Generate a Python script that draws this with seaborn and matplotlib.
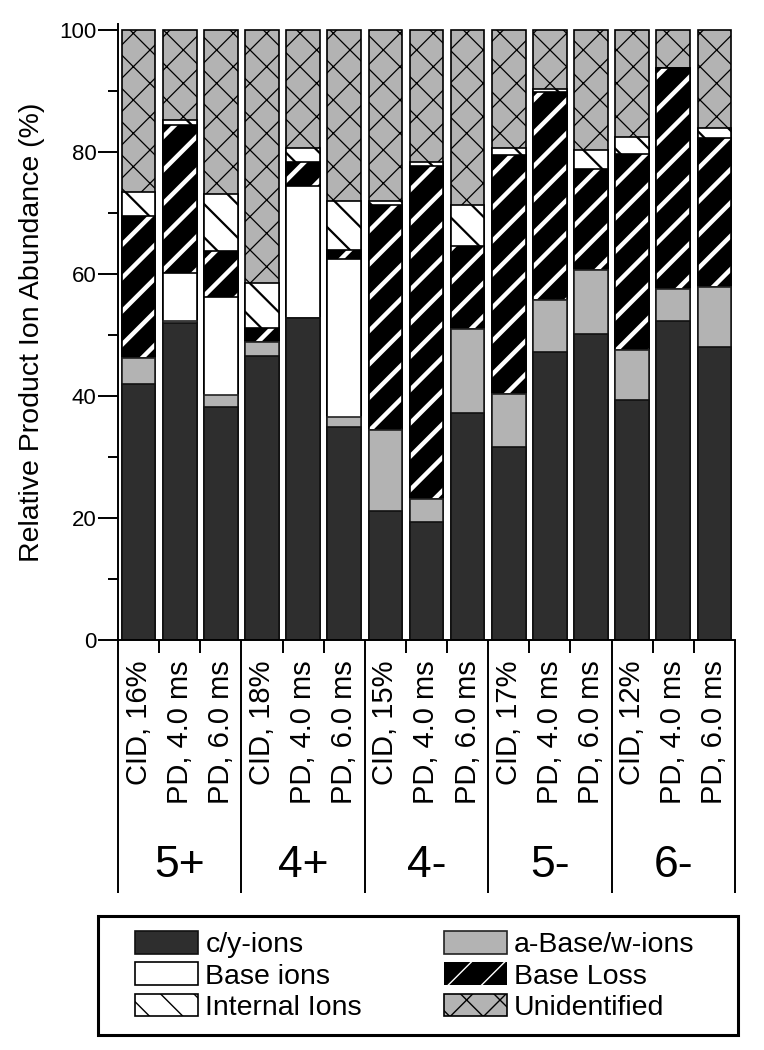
import numpy as np
import pandas as pd
import matplotlib
matplotlib.use("Agg")
import matplotlib.pyplot as plt
import matplotlib.transforms as mtransforms
from matplotlib.patches import Patch, Rectangle
import seaborn as sns

# ---------------- data ----------------
groups = ["5+", "4+", "4-", "5-", "6-"]
conditions = ["CID, 16%", "PD, 4.0 ms", "PD, 6.0 ms",
              "CID, 18%", "PD, 4.0 ms", "PD, 6.0 ms",
              "CID, 15%", "PD, 4.0 ms", "PD, 6.0 ms",
              "CID, 17%", "PD, 4.0 ms", "PD, 6.0 ms",
              "CID, 12%", "PD, 4.0 ms", "PD, 6.0 ms"]
cy_ions      = [42.0, 52.0, 38.2, 46.6, 52.8, 34.9, 21.2, 19.3, 37.2, 31.7, 47.3, 50.1, 39.4, 52.3, 48.1]
abase_w_ions = [4.2, 0.3, 1.9, 2.2, 0.0, 1.7, 13.3, 3.8, 13.8, 8.6, 8.5, 10.5, 8.1, 5.3, 9.8]
base_ions    = [0.0, 7.8, 16.1, 0.0, 21.6, 25.9, 0.0, 0.0, 0.0, 0.0, 0.0, 0.0, 0.0, 0.0, 0.0]
base_loss    = [23.3, 24.3, 7.5, 2.4, 3.9, 1.5, 36.9, 54.6, 13.6, 39.3, 34.1, 16.6, 32.2, 36.2, 24.4]
internal_ions = [3.9, 0.8, 9.5, 7.4, 2.3, 8.0, 0.6, 0.6, 6.7, 1.1, 0.5, 3.1, 2.8, 0.0, 1.7]
unidentified = [26.6, 14.8, 26.8, 41.4, 19.4, 28.0, 28.0, 21.7, 28.7, 19.3, 9.6, 19.7, 17.5, 6.2, 16.0]
series_names = ["c/y-ions", "a-Base/w-ions", "Base ions", "Base Loss", "Internal Ions", "Unidentified"]

# ---------------- styling ----------------
sns.set_theme(style="white")
plt.rcParams["font.family"] = ["Liberation Sans", "DejaVu Sans"]

DARK = "#2e2e2e"
LIGHT = "#b3b3b3"
EDGE_LW = 1.2

fig = plt.figure(figsize=(7.64, 10.5), dpi=100)
ax = fig.add_axes([118 / 764, 1 - 640 / 1050, 617 / 764, 616 / 1050])

layers = np.array([cy_ions, abase_w_ions, base_ions, base_loss, internal_ions, unidentified])
tops = np.cumsum(layers, axis=0)
bar_ids = np.arange(len(conditions))
df = pd.DataFrame({"bar": bar_ids})
for name, top in zip(series_names, tops):
    df[name] = top

BAR_W = 0.82


def draw(col, hatch_lw=None, **kw):
    n0 = len(ax.patches)
    with plt.rc_context({"hatch.linewidth": hatch_lw if hatch_lw else 1.0}):
        sns.barplot(data=df, x="bar", y=col, ax=ax, width=BAR_W, errorbar=None,
                    saturation=1, **kw)
    if hatch_lw:
        for p in ax.patches[n0:]:
            if hasattr(p, "set_hatch_linewidth"):
                p.set_hatch_linewidth(hatch_lw)


# stacked by overlaying cumulative totals (top layer first)
draw("Unidentified", hatch_lw=0.9, color=LIGHT, edgecolor="black", linewidth=EDGE_LW, hatch="x")
draw("Internal Ions", hatch_lw=1.6, color="white", edgecolor="black", linewidth=EDGE_LW, hatch="\\")
draw("Base Loss", hatch_lw=3.2, color="black", edgecolor="white", linewidth=0, hatch="/")
draw("Base Loss", color="black", fill=False, linewidth=EDGE_LW)
draw("Base ions", color="white", edgecolor="black", linewidth=EDGE_LW)
draw("a-Base/w-ions", color=LIGHT, edgecolor="#222222", linewidth=EDGE_LW)
draw("c/y-ions", color=DARK, edgecolor="#111111", linewidth=EDGE_LW)

# ---------------- axes ----------------
ax.set_xlim(-0.5, len(conditions) - 0.5)
ax.set_ylim(0, 101)
ax.set_xlabel("")
for s in ["top", "right"]:
    ax.spines[s].set_visible(False)
for s in ["left", "bottom"]:
    ax.spines[s].set_color("black")
    ax.spines[s].set_linewidth(1.4)

group_edges = np.arange(-0.5, len(conditions), 3)
inner_edges = [b + 0.5 for b in bar_ids[:-1] if (b + 1) % 3 != 0]
ax.set_xticks(group_edges)
ax.set_xticklabels([])
ax.set_xticks(inner_edges, minor=True)
ax.tick_params(axis="x", which="major", bottom=True, direction="out", length=182, width=1.4,
               color="black", labelbottom=False)
ax.tick_params(axis="x", which="minor", bottom=True, direction="out", length=9.4, width=1.4,
               color="black")

ax.set_yticks(np.arange(0, 101, 20))
ax.set_yticks(np.arange(10, 100, 20), minor=True)
ax.tick_params(axis="y", which="major", left=True, direction="out", length=14.4, width=1.4,
               color="black", labelsize=16, pad=1, labelcolor="black")
ax.tick_params(axis="y", which="minor", left=True, direction="out", length=7.2, width=1.4,
               color="black")

ax.set_ylabel("Relative Product Ion Abundance (%)", fontsize=20.5, color="black")
ax.yaxis.set_label_coords(-0.118, 0.5)

trans = mtransforms.blended_transform_factory(ax.transData, ax.transAxes)
for i, lab in enumerate(conditions):
    ax.text(i, -0.0325, lab, rotation=90, ha="center", va="top", fontsize=21,
            transform=trans, color="black")
for g, name in enumerate(groups):
    ax.text(3 * g + 1, -0.385, name, ha="center", va="baseline", fontsize=32,
            transform=trans, color="black")

# ---------------- legend ----------------
h_cy = Patch(facecolor=DARK, edgecolor="#111111", linewidth=EDGE_LW, label=series_names[0])
h_ab = Patch(facecolor=LIGHT, edgecolor="#222222", linewidth=EDGE_LW, label=series_names[1])
h_bi = Patch(facecolor="white", edgecolor="black", linewidth=EDGE_LW, label=series_names[2])
h_bl = Patch(facecolor="black", edgecolor="white", linewidth=0, hatch="/", label=series_names[3])
h_in = Patch(facecolor="white", edgecolor="black", linewidth=EDGE_LW, hatch="\\", label=series_names[4])
h_un = Patch(facecolor=LIGHT, edgecolor="black", linewidth=EDGE_LW, hatch="x", label=series_names[5])
for h, lw in [(h_bl, 3.2), (h_in, 1.6), (h_un, 0.9)]:
    if hasattr(h, "set_hatch_linewidth"):
        h.set_hatch_linewidth(lw)

fs = 20.5
em = fs / 72 * 100
leg = fig.legend(handles=[h_cy, h_bi, h_in, h_ab, h_bl, h_un],
                 labels=[series_names[0], series_names[2], series_names[4],
                         series_names[1], series_names[3], series_names[5]],
                 ncol=2, loc="center", bbox_to_anchor=(415 / 764, 1 - 976 / 1050),
                 frameon=False, fontsize=fs, handlelength=63 / em, handleheight=24 / em,
                 handletextpad=7 / em, columnspacing=82 / em, labelspacing=0.14,
                 borderpad=0)
for t in leg.get_texts():
    t.set_color("black")
fig.add_artist(Rectangle((98 / 764, 1 - 1035 / 1050), 640 / 764, 119 / 1050,
                         transform=fig.transFigure, fill=False, edgecolor="black",
                         linewidth=2.2))

fig.savefig("out.png", dpi=100)
